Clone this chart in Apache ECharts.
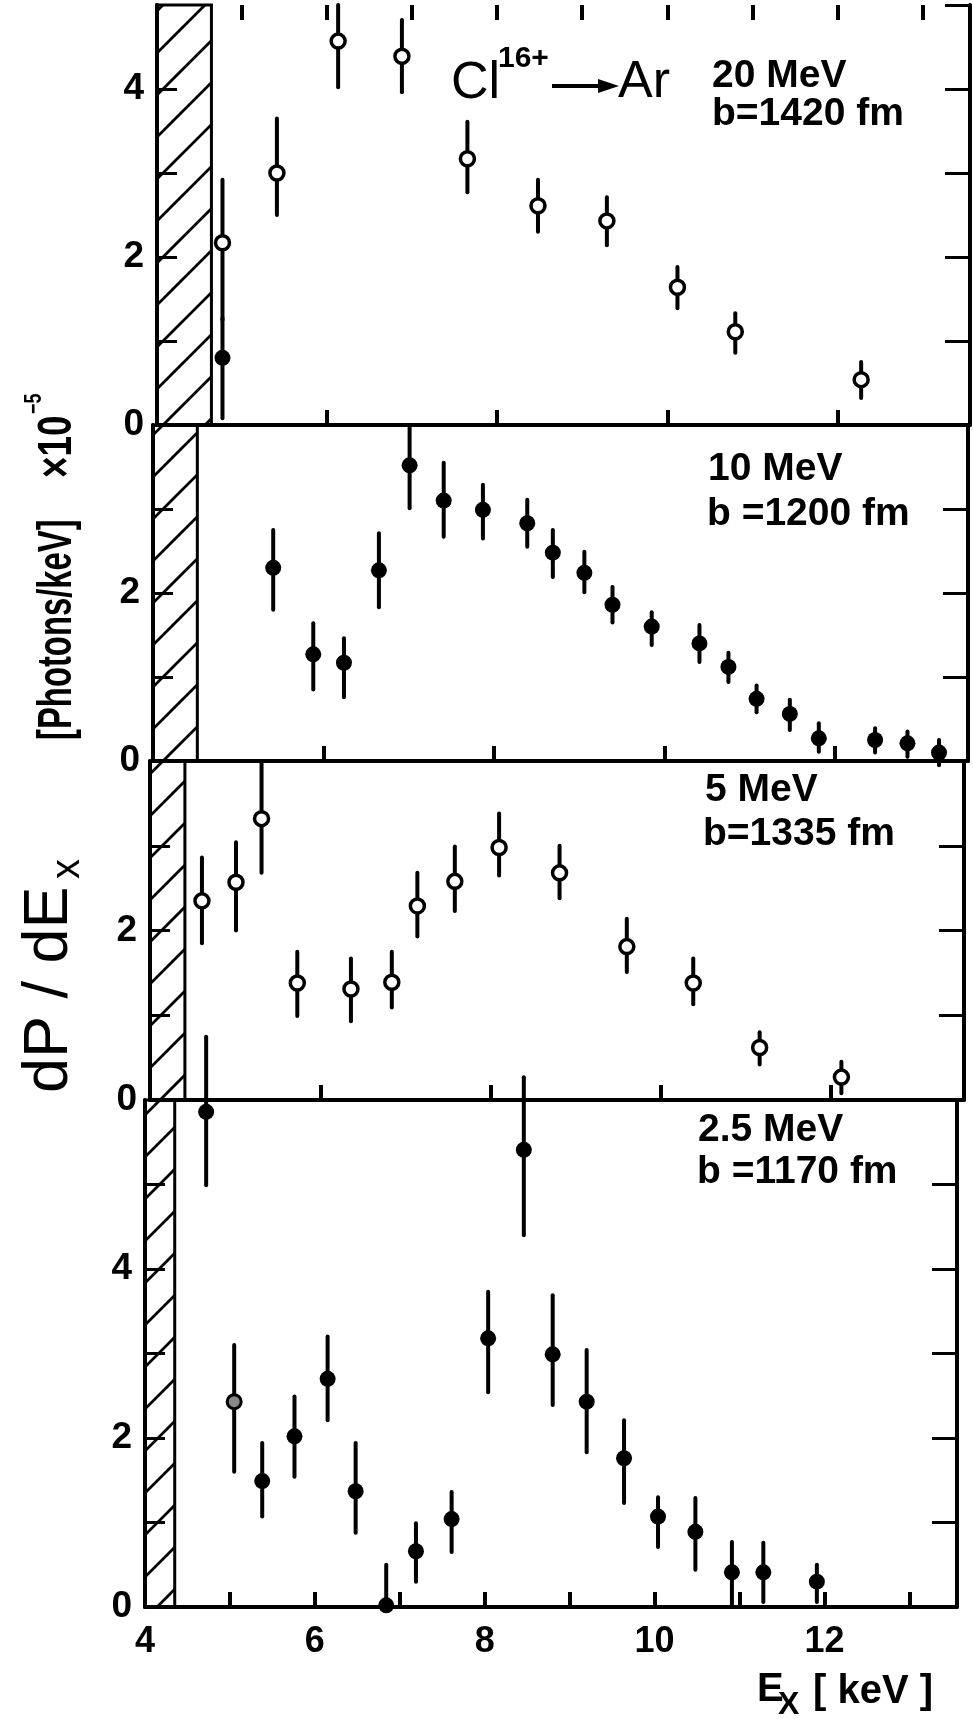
<!DOCTYPE html>
<html>
<head>
<meta charset="utf-8">
<script src="https://cdn.jsdelivr.net/npm/echarts@6/dist/echarts.min.js"></script>
<style>
  html, body { margin: 0; padding: 0; background: #fff; }
  #chart { width: 973px; height: 1719px; }
</style>
</head>
<body>
<div id="chart"></div>
<script>
// dP/dEx in units of 1e-5 photons/keV, Ex in keV; 'o' = open circle, 'f' = filled, 'g' = grey
var e20X    = [4.77, 4.77, 5.41, 6.13, 6.88, 7.65, 8.48, 9.29, 10.12, 10.80, 12.28];
var e20Y    = [2.17, 0.80, 3.00, 4.57, 4.39, 3.17, 2.61, 2.43, 1.64, 1.11, 0.54];
var e20Lo   = [1.25, 0.08, 2.50, 4.02, 3.96, 2.77, 2.30, 2.14, 1.39, 0.86, 0.32];
var e20Hi   = [2.92, 1.27, 3.65, 5.00, 4.82, 3.61, 2.92, 2.71, 1.88, 1.33, 0.75];
var e20Kind = ['o', 'f', 'o', 'o', 'o', 'o', 'o', 'o', 'o', 'o', 'o'];

var e10X  = [5.41, 5.88, 6.24, 6.65, 7.01, 7.41, 7.87, 8.39, 8.69, 9.06, 9.39, 9.85, 10.41, 10.75, 11.08, 11.47, 11.81, 12.47, 12.85, 13.22];
var e10Y  = [2.30, 1.27, 1.17, 2.27, 3.52, 3.10, 2.99, 2.83, 2.48, 2.24, 1.86, 1.60, 1.40, 1.12, 0.74, 0.56, 0.27, 0.25, 0.21, 0.10];
var e10Lo = [1.80, 0.85, 0.76, 1.83, 3.01, 2.67, 2.65, 2.55, 2.19, 2.01, 1.65, 1.38, 1.18, 0.94, 0.58, 0.37, 0.11, 0.10, 0.05, -0.05];
var e10Hi = [2.75, 1.64, 1.46, 2.71, 4.00, 3.55, 3.29, 3.11, 2.75, 2.49, 2.07, 1.77, 1.62, 1.29, 0.90, 0.73, 0.45, 0.39, 0.35, 0.25];
var e10Kind = e10X.map(function () { return 'f'; });

var e5X  = [4.61, 5.01, 5.31, 5.73, 6.36, 6.84, 7.14, 7.58, 8.10, 8.81, 9.60, 10.38, 11.16, 12.12];
var e5Y  = [2.35, 2.57, 3.32, 1.38, 1.31, 1.39, 2.29, 2.58, 2.98, 2.68, 1.81, 1.38, 0.62, 0.27];
var e5Lo = [1.85, 2.00, 2.68, 0.99, 0.93, 1.09, 1.93, 2.23, 2.65, 2.38, 1.51, 1.13, 0.42, 0.08];
var e5Hi = [2.86, 3.04, 4.00, 1.75, 1.67, 1.75, 2.68, 2.99, 3.38, 3.00, 2.14, 1.67, 0.80, 0.45];
var e5Kind = e5X.map(function () { return 'o'; });

var e25X  = [4.72, 5.05, 5.38, 5.76, 6.15, 6.48, 6.84, 7.19, 7.61, 8.04, 8.46, 8.80, 9.20, 9.64, 10.04, 10.48, 10.91, 11.28, 11.91];
var e25Y  = [5.86, 2.43, 1.49, 2.02, 2.70, 1.37, 0.02, 0.66, 1.04, 3.18, 5.41, 2.99, 2.43, 1.76, 1.07, 0.89, 0.41, 0.41, 0.30];
var e25Lo = [4.99, 1.60, 1.07, 1.54, 2.21, 0.88, 0.00, 0.30, 0.65, 2.54, 4.40, 2.39, 1.83, 1.23, 0.71, 0.44, 0.02, 0.06, 0.06];
var e25Hi = [6.75, 3.10, 1.94, 2.49, 3.20, 1.94, 0.50, 0.99, 1.36, 3.73, 6.27, 3.69, 3.04, 2.21, 1.30, 1.29, 0.77, 0.76, 0.50];
var e25Kind = ['f', 'g', 'f', 'f', 'f', 'f', 'f', 'f', 'f', 'f', 'f', 'f', 'f', 'f', 'f', 'f', 'f', 'f', 'f'];

var energyLabels = ['20 MeV', '10 MeV', '5 MeV', '2.5 MeV'];
var impactLabels = ['b=1420 fm', 'b =1200 fm', 'b=1335 fm', 'b =1170 fm'];
var yMax = [5, 4, 4, 6];
var hatchEdge = [4.64, 4.52, 4.41, 4.35];   // end of the shaded (excluded) energy band
var xTickLabels = [4, 6, 8, 10, 12];
var yTickLabels = [0, 2, 4];
var xMin = 4, xMax = 13.56;

var panels = [
  { x: e20X, y: e20Y, lo: e20Lo, hi: e20Hi, kind: e20Kind },
  { x: e10X, y: e10Y, lo: e10Lo, hi: e10Hi, kind: e10Kind },
  { x: e5X,  y: e5Y,  lo: e5Lo,  hi: e5Hi,  kind: e5Kind },
  { x: e25X, y: e25Y, lo: e25Lo, hi: e25Hi, kind: e25Kind }
];

// the scanned figure leans a little, so each panel sits a few px apart
var layout = [
  { left: 157, top: 5,    width: 813, height: 420, textY: [76, 114.5] },
  { left: 153, top: 425,  width: 815, height: 336, textY: [469.5, 514.5] },
  { left: 150, top: 761,  width: 814, height: 339, textY: [790, 834.5] },
  { left: 145, top: 1100, width: 812, height: 507, textY: [1130, 1172] }
];
var textX = [[712, 712], [708, 707], [705, 703], [698, 697]];

var FONT = '"Liberation Sans", Arial, sans-serif';

function hatchPattern() {
  var s = 42;
  var c = document.createElement('canvas');
  c.width = s; c.height = s;
  var g = c.getContext('2d');
  g.strokeStyle = '#000';
  g.lineWidth = 2.8;
  g.beginPath();
  g.moveTo(0, s); g.lineTo(s, 0);
  g.moveTo(-s / 2, s / 2); g.lineTo(s / 2, -s / 2);
  g.moveTo(s / 2, s * 1.5); g.lineTo(s * 1.5, s / 2);
  g.stroke();
  return c;
}
var hatch = hatchPattern();

var chart = echarts.init(document.getElementById('chart'), null, { renderer: 'canvas' });

var grid = [], xAxis = [], yAxis = [], series = [], graphic = [];

layout.forEach(function (L, i) {
  grid.push({ left: L.left, top: L.top, width: L.width, height: L.height, containLabel: false, outerBoundsMode: 'none' });

  var bottomPanel = i === 3;
  xAxis.push({
    gridIndex: i, type: 'value', min: xMin, max: xMax, interval: bottomPanel ? 1 : 2,
    position: 'bottom',
    axisLine: { show: true, onZero: false, lineStyle: { color: '#000', width: 4 } },
    axisTick: { show: true, inside: true, length: 15, lineStyle: { color: '#000', width: 4 } },
    axisLabel: {
      show: bottomPanel, margin: 17, color: '#000', fontSize: 36, fontWeight: 'bold', fontFamily: FONT,
      showMaxLabel: false,
      formatter: function (v) { return xTickLabels.indexOf(v) >= 0 ? String(v) : ''; }
    },
    splitLine: { show: false }
  });

  yAxis.push({
    gridIndex: i, type: 'value', min: 0, max: yMax[i], interval: 1, position: 'left',
    axisLine: { show: true, onZero: false, lineStyle: { color: '#000', width: 4 } },
    axisTick: { show: true, inside: true, length: 20, lineStyle: { color: '#000', width: 3 } },
    axisLabel: {
      show: true, margin: 13, color: '#000', fontSize: 37, fontWeight: 'bold', fontFamily: FONT,
      showMaxLabel: false,
      formatter: function (v) { return (yTickLabels.indexOf(v) >= 0 && v < yMax[i]) ? String(v) : ''; }
    },
    splitLine: { show: false }
  });
  yAxis.push({
    gridIndex: i, type: 'value', min: 0, max: yMax[i], interval: 1, position: 'right',
    axisLine: { show: true, onZero: false, lineStyle: { color: '#000', width: 4 } },
    axisTick: { show: true, inside: true, length: 25, lineStyle: { color: '#000', width: 3 } },
    axisLabel: { show: false },
    splitLine: { show: false }
  });

  var P = panels[i];
  series.push({
    type: 'custom', xAxisIndex: i, yAxisIndex: i * 2, silent: true, z: 3,
    data: P.x.map(function (x, k) { return [x, P.lo[k], P.hi[k]]; }),
    encode: { x: 0, y: [1, 2] },
    renderItem: function (params, api) {
      var a = api.coord([api.value(0), api.value(1)]);
      var b = api.coord([api.value(0), api.value(2)]);
      return {
        type: 'line',
        shape: { x1: a[0], y1: a[1], x2: b[0], y2: b[1] },
        style: { stroke: '#000', lineWidth: 4, lineCap: 'round' }
      };
    }
  });
  series.push({
    type: 'scatter', xAxisIndex: i, yAxisIndex: i * 2, silent: true, z: 4,
    symbol: 'circle',
    itemStyle: { opacity: 1 },
    data: P.x.map(function (x, k) {
      var kind = P.kind[k];
      var st = kind === 'o' ? { color: '#fff', borderColor: '#000', borderWidth: 3.5, opacity: 1 }
             : kind === 'g' ? { color: '#888', borderColor: '#000', borderWidth: 3, opacity: 1 }
             : { color: '#000', borderWidth: 0, opacity: 1 };
      return { value: [x, P.y[k]], symbolSize: kind === 'f' ? 16 : 14, itemStyle: st };
    }),
    markArea: {
      silent: true,
      itemStyle: { color: { image: hatch, repeat: 'repeat' }, borderColor: '#000', borderWidth: 3, opacity: 1 },
      data: [[{ xAxis: xMin }, { xAxis: hatchEdge[i] }]]
    }
  });

  graphic.push({
    type: 'text', x: textX[i][0], y: L.textY[0], silent: true,
    style: { text: energyLabels[i], fill: '#000', font: 'bold 39px ' + FONT, textAlign: 'left', verticalAlign: 'middle', textVerticalAlign: 'middle' }
  });
  graphic.push({
    type: 'text', x: textX[i][1], y: L.textY[1], silent: true,
    style: { text: impactLabels[i], fill: '#000', font: 'bold 39px ' + FONT, textAlign: 'left', verticalAlign: 'middle', textVerticalAlign: 'middle' }
  });
});

// ticks hanging from the (cropped) top frame of the first panel
xAxis.push({
  gridIndex: 0, type: 'value', min: xMin, max: xMax, interval: 1, position: 'top',
  axisLine: { show: false, onZero: false },
  axisTick: { show: true, inside: true, length: 15, lineStyle: { color: '#000', width: 4 } },
  axisLabel: { show: false },
  splitLine: { show: false }
});

function label(x, y, text, font) {
  return {
    type: 'text', x: x, y: y, silent: true,
    style: { text: text, fill: '#000', font: font, textAlign: 'left', verticalAlign: 'middle', textVerticalAlign: 'middle' }
  };
}
// rotated text: the group turns it upright, the child squeezes along the reading direction
function upLabel(x, y, text, font, squeeze) {
  var t = label(0, 0, text, font);
  t.scaleX = squeeze || 1;
  return { type: 'group', x: x, y: y, rotation: Math.PI / 2, silent: true, children: [t] };
}

graphic.push(
  label(451, 83.5, 'Cl', 'normal 52px ' + FONT),
  label(498, 58.5, '16+', 'bold 30px ' + FONT),
  { type: 'line', silent: true, shape: { x1: 552, y1: 86, x2: 604, y2: 86 }, style: { stroke: '#000', lineWidth: 4 } },
  { type: 'polygon', silent: true, shape: { points: [[598, 79], [619, 86], [598, 93]] }, style: { fill: '#000' } },
  label(618, 82.5, 'Ar', 'normal 52px ' + FONT),

  label(757, 1689.5, 'E', 'bold 40px ' + FONT),
  label(778, 1705, 'X', 'bold 32px ' + FONT),
  label(813, 1692, '[ keV ]', 'bold 40px ' + FONT),

  upLabel(49.5, 1093, 'dP / dE', 'normal 63px ' + FONT),
  upLabel(67.6, 879, 'x', 'normal 40px ' + FONT),
  upLabel(57, 740, '[Photons/keV]', 'bold 49px ' + FONT, 0.67),
  upLabel(57, 478, '\u00d710', 'bold 49px ' + FONT, 0.75),
  upLabel(34.6, 414, '\u22125', 'bold 24px ' + FONT, 0.75)
);

chart.setOption({
  animation: false,
  backgroundColor: '#fff',
  grid: grid,
  xAxis: xAxis,
  yAxis: yAxis,
  series: series,
  graphic: graphic
});
window.addEventListener('resize', function () { chart.resize(); });
</script>
</body>
</html>
